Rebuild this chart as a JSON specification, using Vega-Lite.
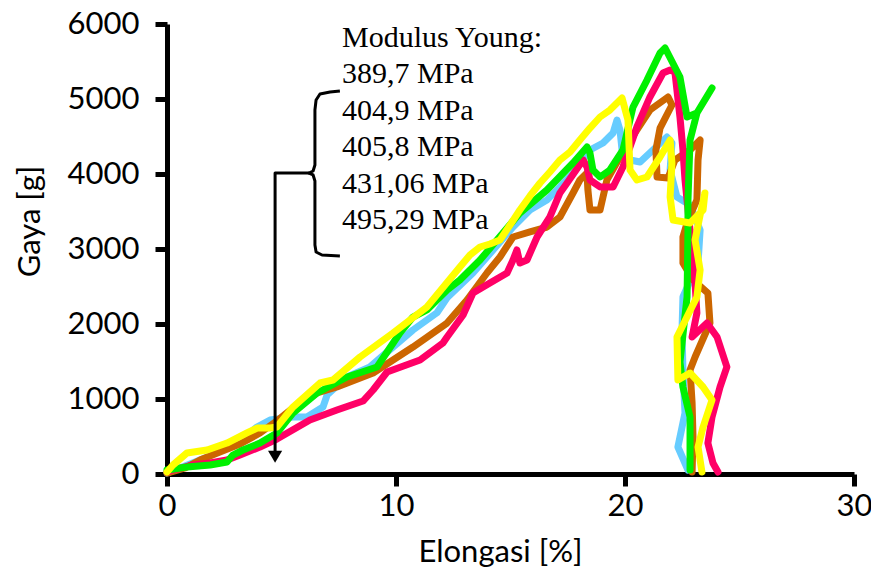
{
  "$schema": "https://vega.github.io/schema/vega-lite/v6.json",
  "width": 687,
  "height": 450,
  "autosize": "none",
  "padding": {"left": 167, "top": 24, "right": 17, "bottom": 102},
  "background": "white",
  "config": {
    "view": {"stroke": null}
  },
  "datasets": {
    "curves": [
      {"s":"B","i":0,"x":0,"y":13},{"s":"B","i":1,"x":0.79,"y":107},{"s":"B","i":2,"x":1.66,"y":213},{"s":"B","i":3,"x":2.53,"y":347},{"s":"B","i":4,"x":3.41,"y":493},{"s":"B","i":5,"x":3.93,"y":627},{"s":"B","i":6,"x":4.5,"y":720},{"s":"B","i":7,"x":5.5,"y":760},{"s":"B","i":8,"x":6.11,"y":760},{"s":"B","i":9,"x":6.81,"y":893},{"s":"B","i":10,"x":6.99,"y":1053},{"s":"B","i":11,"x":7.86,"y":1293},{"s":"B","i":12,"x":8.86,"y":1427},{"s":"B","i":13,"x":9.87,"y":1693},{"s":"B","i":14,"x":10.74,"y":1920},{"s":"B","i":15,"x":11.79,"y":2150},{"s":"B","i":16,"x":12.23,"y":2350},{"s":"B","i":17,"x":13.36,"y":2680},{"s":"B","i":18,"x":14.24,"y":2987},{"s":"B","i":19,"x":15.11,"y":3293},{"s":"B","i":20,"x":15.85,"y":3520},{"s":"B","i":21,"x":16.59,"y":3653},{"s":"B","i":22,"x":17.16,"y":3827},{"s":"B","i":23,"x":17.73,"y":4013},{"s":"B","i":24,"x":18.47,"y":4320},{"s":"B","i":25,"x":19.04,"y":4413},{"s":"B","i":26,"x":19.48,"y":4547},{"s":"B","i":27,"x":19.65,"y":4720},{"s":"B","i":28,"x":19.78,"y":4587},{"s":"B","i":29,"x":19.87,"y":4320},{"s":"B","i":30,"x":20.22,"y":4187},{"s":"B","i":31,"x":20.66,"y":4160},{"s":"B","i":32,"x":21.22,"y":4320},{"s":"B","i":33,"x":21.83,"y":4493},{"s":"B","i":34,"x":22.05,"y":4413},{"s":"B","i":35,"x":21.97,"y":4053},{"s":"B","i":36,"x":22.27,"y":3693},{"s":"B","i":37,"x":22.84,"y":3587},{"s":"B","i":38,"x":23.28,"y":3253},{"s":"B","i":39,"x":23.19,"y":2813},{"s":"B","i":40,"x":22.53,"y":2360},{"s":"B","i":41,"x":22.49,"y":1920},{"s":"B","i":42,"x":22.53,"y":1387},{"s":"B","i":43,"x":22.62,"y":813},{"s":"B","i":44,"x":22.31,"y":360},{"s":"B","i":45,"x":22.75,"y":53},

      {"s":"O","i":0,"x":0,"y":13},{"s":"O","i":1,"x":0.79,"y":80},{"s":"O","i":2,"x":1.44,"y":187},{"s":"O","i":3,"x":2.31,"y":293},{"s":"O","i":4,"x":3.19,"y":400},{"s":"O","i":5,"x":4.06,"y":547},{"s":"O","i":6,"x":4.85,"y":720},{"s":"O","i":7,"x":5.5,"y":880},{"s":"O","i":8,"x":6.55,"y":1080},{"s":"O","i":9,"x":7.42,"y":1160},{"s":"O","i":10,"x":9.0,"y":1347},{"s":"O","i":11,"x":9.87,"y":1520},{"s":"O","i":12,"x":10.74,"y":1693},{"s":"O","i":13,"x":12.23,"y":2013},{"s":"O","i":14,"x":13.1,"y":2320},{"s":"O","i":15,"x":13.97,"y":2680},{"s":"O","i":16,"x":14.54,"y":2893},{"s":"O","i":17,"x":15.11,"y":3160},{"s":"O","i":18,"x":15.85,"y":3227},{"s":"O","i":19,"x":16.59,"y":3293},{"s":"O","i":20,"x":17.16,"y":3427},{"s":"O","i":21,"x":17.73,"y":3747},{"s":"O","i":22,"x":18.03,"y":3920},{"s":"O","i":23,"x":18.34,"y":4013},{"s":"O","i":24,"x":18.38,"y":3787},{"s":"O","i":25,"x":18.47,"y":3520},{"s":"O","i":26,"x":18.91,"y":3520},{"s":"O","i":27,"x":19.04,"y":3693},{"s":"O","i":28,"x":19.21,"y":3920},{"s":"O","i":29,"x":19.78,"y":4227},{"s":"O","i":30,"x":20.52,"y":4587},{"s":"O","i":31,"x":21.09,"y":4853},{"s":"O","i":32,"x":21.88,"y":5027},{"s":"O","i":33,"x":22.05,"y":4920},{"s":"O","i":34,"x":21.53,"y":4613},{"s":"O","i":35,"x":21.35,"y":4320},{"s":"O","i":36,"x":21.4,"y":3960},{"s":"O","i":37,"x":21.88,"y":3947},{"s":"O","i":38,"x":22.18,"y":4187},{"s":"O","i":39,"x":22.84,"y":4320},{"s":"O","i":40,"x":23.28,"y":4453},{"s":"O","i":41,"x":23.19,"y":4187},{"s":"O","i":42,"x":23.14,"y":3653},{"s":"O","i":43,"x":22.75,"y":3387},{"s":"O","i":44,"x":22.53,"y":3160},{"s":"O","i":45,"x":22.53,"y":2813},{"s":"O","i":46,"x":22.97,"y":2587},{"s":"O","i":47,"x":23.62,"y":2413},{"s":"O","i":48,"x":23.71,"y":2013},{"s":"O","i":49,"x":23.06,"y":1560},{"s":"O","i":50,"x":22.84,"y":1387},{"s":"O","i":51,"x":22.93,"y":947},{"s":"O","i":52,"x":22.97,"y":493},{"s":"O","i":53,"x":22.93,"y":27},

      {"s":"M","i":0,"x":0,"y":27},{"s":"M","i":1,"x":0.26,"y":53},{"s":"M","i":2,"x":1.14,"y":120},{"s":"M","i":3,"x":1.88,"y":147},{"s":"M","i":4,"x":2.62,"y":187},{"s":"M","i":5,"x":3.19,"y":253},{"s":"M","i":6,"x":4.06,"y":360},{"s":"M","i":7,"x":4.8,"y":467},{"s":"M","i":8,"x":6.24,"y":720},{"s":"M","i":9,"x":7.42,"y":853},{"s":"M","i":10,"x":8.56,"y":973},{"s":"M","i":11,"x":9.0,"y":1120},{"s":"M","i":12,"x":9.61,"y":1360},{"s":"M","i":13,"x":11.05,"y":1520},{"s":"M","i":14,"x":12.05,"y":1747},{"s":"M","i":15,"x":12.23,"y":1827},{"s":"M","i":16,"x":12.93,"y":2120},{"s":"M","i":17,"x":13.36,"y":2413},{"s":"M","i":18,"x":14.1,"y":2547},{"s":"M","i":19,"x":14.85,"y":2680},{"s":"M","i":20,"x":15.11,"y":2853},{"s":"M","i":21,"x":15.28,"y":2987},{"s":"M","i":22,"x":15.41,"y":2813},{"s":"M","i":23,"x":15.72,"y":2853},{"s":"M","i":24,"x":16.16,"y":3160},{"s":"M","i":25,"x":16.72,"y":3427},{"s":"M","i":26,"x":17.16,"y":3747},{"s":"M","i":27,"x":17.47,"y":3880},{"s":"M","i":28,"x":18.17,"y":4187},{"s":"M","i":29,"x":18.34,"y":4093},{"s":"M","i":30,"x":18.47,"y":3920},{"s":"M","i":31,"x":18.91,"y":3827},{"s":"M","i":32,"x":19.48,"y":3827},{"s":"M","i":33,"x":19.91,"y":4093},{"s":"M","i":34,"x":20.52,"y":4627},{"s":"M","i":35,"x":21.09,"y":5027},{"s":"M","i":36,"x":21.66,"y":5347},{"s":"M","i":37,"x":21.97,"y":5387},{"s":"M","i":38,"x":22.18,"y":5360},{"s":"M","i":39,"x":22.4,"y":4760},{"s":"M","i":40,"x":22.53,"y":4320},{"s":"M","i":41,"x":22.62,"y":3920},{"s":"M","i":42,"x":22.84,"y":3253},{"s":"M","i":43,"x":22.97,"y":2987},{"s":"M","i":44,"x":23.14,"y":2147},{"s":"M","i":45,"x":22.93,"y":1827},{"s":"M","i":46,"x":23.58,"y":2013},{"s":"M","i":47,"x":24.02,"y":1827},{"s":"M","i":48,"x":24.45,"y":1427},{"s":"M","i":49,"x":24.15,"y":1160},{"s":"M","i":50,"x":23.8,"y":760},{"s":"M","i":51,"x":23.62,"y":413},{"s":"M","i":52,"x":23.84,"y":147},{"s":"M","i":53,"x":24.06,"y":27},

      {"s":"G","i":0,"x":0,"y":53},{"s":"G","i":1,"x":0.87,"y":93},{"s":"G","i":2,"x":1.88,"y":120},{"s":"G","i":3,"x":2.62,"y":160},{"s":"G","i":4,"x":2.88,"y":253},{"s":"G","i":5,"x":3.32,"y":320},{"s":"G","i":6,"x":4.06,"y":413},{"s":"G","i":7,"x":4.8,"y":547},{"s":"G","i":8,"x":5.5,"y":813},{"s":"G","i":9,"x":6.55,"y":1080},{"s":"G","i":10,"x":7.86,"y":1293},{"s":"G","i":11,"x":9.17,"y":1427},{"s":"G","i":12,"x":10.17,"y":1880},{"s":"G","i":13,"x":10.74,"y":2093},{"s":"G","i":14,"x":11.35,"y":2187},{"s":"G","i":15,"x":12.23,"y":2453},{"s":"G","i":16,"x":12.79,"y":2587},{"s":"G","i":17,"x":13.67,"y":2853},{"s":"G","i":18,"x":14.41,"y":3120},{"s":"G","i":19,"x":15.41,"y":3480},{"s":"G","i":20,"x":16.59,"y":3787},{"s":"G","i":21,"x":17.73,"y":4147},{"s":"G","i":22,"x":18.34,"y":4360},{"s":"G","i":23,"x":18.47,"y":4280},{"s":"G","i":24,"x":18.6,"y":4053},{"s":"G","i":25,"x":18.91,"y":3960},{"s":"G","i":26,"x":19.34,"y":4053},{"s":"G","i":27,"x":19.91,"y":4320},{"s":"G","i":28,"x":20.35,"y":4893},{"s":"G","i":29,"x":20.96,"y":5253},{"s":"G","i":30,"x":21.53,"y":5613},{"s":"G","i":31,"x":21.75,"y":5680},{"s":"G","i":32,"x":22.4,"y":5293},{"s":"G","i":33,"x":22.71,"y":4760},{"s":"G","i":34,"x":23.14,"y":4813},{"s":"G","i":35,"x":23.8,"y":5147},{"s":"G","i":36,"x":23.14,"y":4813},{"s":"G","i":37,"x":22.84,"y":4453},{"s":"G","i":38,"x":22.75,"y":3653},{"s":"G","i":39,"x":22.75,"y":3253},{"s":"G","i":40,"x":22.71,"y":2360},{"s":"G","i":41,"x":22.4,"y":1493},{"s":"G","i":42,"x":22.53,"y":1160},{"s":"G","i":43,"x":22.84,"y":760},{"s":"G","i":44,"x":22.84,"y":53},

      {"s":"Y","i":0,"x":0,"y":27},{"s":"Y","i":1,"x":0.26,"y":120},{"s":"Y","i":2,"x":0.87,"y":280},{"s":"Y","i":3,"x":1.75,"y":320},{"s":"Y","i":4,"x":2.62,"y":413},{"s":"Y","i":5,"x":3.49,"y":547},{"s":"Y","i":6,"x":3.93,"y":613},{"s":"Y","i":7,"x":4.5,"y":613},{"s":"Y","i":8,"x":4.8,"y":627},{"s":"Y","i":9,"x":5.5,"y":893},{"s":"Y","i":10,"x":6.68,"y":1213},{"s":"Y","i":11,"x":7.25,"y":1253},{"s":"Y","i":12,"x":8.43,"y":1560},{"s":"Y","i":13,"x":9.87,"y":1880},{"s":"Y","i":14,"x":11.35,"y":2227},{"s":"Y","i":15,"x":12.79,"y":2760},{"s":"Y","i":16,"x":13.23,"y":2920},{"s":"Y","i":17,"x":13.67,"y":3027},{"s":"Y","i":18,"x":14.1,"y":3067},{"s":"Y","i":19,"x":14.54,"y":3120},{"s":"Y","i":20,"x":14.98,"y":3320},{"s":"Y","i":21,"x":15.41,"y":3520},{"s":"Y","i":22,"x":15.85,"y":3707},{"s":"Y","i":23,"x":16.29,"y":3880},{"s":"Y","i":24,"x":16.72,"y":4027},{"s":"Y","i":25,"x":17.16,"y":4187},{"s":"Y","i":26,"x":17.6,"y":4293},{"s":"Y","i":27,"x":18.03,"y":4453},{"s":"Y","i":28,"x":18.47,"y":4613},{"s":"Y","i":29,"x":18.91,"y":4760},{"s":"Y","i":30,"x":19.34,"y":4853},{"s":"Y","i":31,"x":19.87,"y":5013},{"s":"Y","i":32,"x":20.13,"y":4720},{"s":"Y","i":33,"x":20.22,"y":4053},{"s":"Y","i":34,"x":20.52,"y":3920},{"s":"Y","i":35,"x":20.96,"y":3960},{"s":"Y","i":36,"x":21.53,"y":4227},{"s":"Y","i":37,"x":21.97,"y":4453},{"s":"Y","i":38,"x":22.05,"y":4147},{"s":"Y","i":39,"x":21.97,"y":3693},{"s":"Y","i":40,"x":22.1,"y":3387},{"s":"Y","i":41,"x":22.84,"y":3347},{"s":"Y","i":42,"x":23.41,"y":3520},{"s":"Y","i":43,"x":23.49,"y":3747},{"s":"Y","i":44,"x":23.28,"y":3453},{"s":"Y","i":45,"x":23.06,"y":3120},{"s":"Y","i":46,"x":23.28,"y":2720},{"s":"Y","i":47,"x":23.14,"y":2360},{"s":"Y","i":48,"x":22.27,"y":1827},{"s":"Y","i":49,"x":22.31,"y":1253},{"s":"Y","i":50,"x":22.84,"y":1347},{"s":"Y","i":51,"x":23.41,"y":1160},{"s":"Y","i":52,"x":23.8,"y":987},{"s":"Y","i":53,"x":23.41,"y":627},{"s":"Y","i":54,"x":23.19,"y":360},{"s":"Y","i":55,"x":23.36,"y":27}
    ],
    "marks": [
      {"p":"b","i":0,"x":7.55,"y":5107},{"p":"b","i":1,"x":7.12,"y":5093},{"p":"b","i":2,"x":6.68,"y":5067},{"p":"b","i":3,"x":6.51,"y":4987},{"p":"b","i":4,"x":6.46,"y":4853},{"p":"b","i":5,"x":6.46,"y":4120},{"p":"b","i":6,"x":6.38,"y":4040},{"p":"b","i":7,"x":6.2,"y":4013},{"p":"b","i":8,"x":6.38,"y":3987},{"p":"b","i":9,"x":6.46,"y":3907},{"p":"b","i":10,"x":6.46,"y":3053},{"p":"b","i":11,"x":6.51,"y":2960},{"p":"b","i":12,"x":6.77,"y":2920},{"p":"b","i":13,"x":7.55,"y":2907},
      {"p":"a","i":0,"x":6.2,"y":4013},{"p":"a","i":1,"x":4.72,"y":4013},{"p":"a","i":2,"x":4.72,"y":280}
    ],
    "one": [{"k": 1}]
  },
  "layer": [
    {
      "data": {"name": "curves"},
      "mark": {"type": "line", "strokeWidth": 7, "strokeCap": "round", "strokeJoin": "round"},
      "encoding": {
        "x": {"field": "x", "type": "quantitative", "scale": {"domain": [0, 30], "nice": false, "zero": false},
          "axis": {"values": [0, 10, 20, 30], "format": "d", "grid": false, "domainColor": "black", "domainWidth": 5, "tickColor": "black", "tickWidth": 5, "tickSize": 12, "labelFont": "Lato", "labelFontSize": 31, "labelColor": "black", "labelFlush": false, "labelPadding": 5, "title": "Elongasi [%]", "titleFont": "Lato", "titleFontSize": 31, "titleFontWeight": "normal", "titleColor": "black", "titleX": 333, "titleY": 78, "titleBaseline": "middle", "titleAlign": "center"}},
        "y": {"field": "y", "type": "quantitative", "scale": {"domain": [0, 6000], "nice": false},
          "axis": {"values": [0, 1000, 2000, 3000, 4000, 5000, 6000], "format": "d", "grid": false, "domainColor": "black", "domainWidth": 5, "tickColor": "black", "tickWidth": 5, "tickSize": 12, "labelFont": "Lato", "labelFontSize": 31, "labelColor": "black", "labelFlush": false, "labelPadding": 16, "title": "Gaya [g]", "titleFont": "Lato", "titleFontSize": 31, "titleFontWeight": "normal", "titleColor": "black", "titleX": -137, "titleY": 197, "titleBaseline": "middle", "titleAlign": "center"}},
        "color": {"field": "s", "type": "nominal", "sort": ["B", "O", "M", "G", "Y"], "scale": {"domain": ["B", "O", "M", "G", "Y"], "range": ["#66CCFF", "#CC6600", "#FF0066", "#00F000", "#FFFF00"]}, "legend": null},
        "order": {"field": "i", "type": "quantitative"}
      }
    },
    {
      "data": {"name": "marks"},
      "mark": {"type": "line", "strokeWidth": 3, "color": "black", "strokeJoin": "round"},
      "encoding": {
        "x": {"field": "x", "type": "quantitative"},
        "y": {"field": "y", "type": "quantitative"},
        "detail": {"field": "p", "type": "nominal"},
        "order": {"field": "i", "type": "quantitative"}
      }
    },
    {
      "data": {"name": "one"},
      "mark": {"type": "point", "shape": "triangle-down", "filled": true, "color": "black", "size": 200, "opacity": 1},
      "encoding": {"x": {"datum": 4.72}, "y": {"datum": 230}}
    },
    {
      "data": {"name": "one"},
      "mark": {"type": "text", "text": ["Modulus Young:", "389,7 MPa", "404,9 MPa", "405,8 MPa", "431,06 MPa", "495,29 MPa"], "font": "Liberation Serif", "fontSize": 30, "lineHeight": 36.4, "align": "left", "baseline": "top", "color": "black"},
      "encoding": {"x": {"datum": 7.64}, "y": {"datum": 6013}}
    }
  ]
}
